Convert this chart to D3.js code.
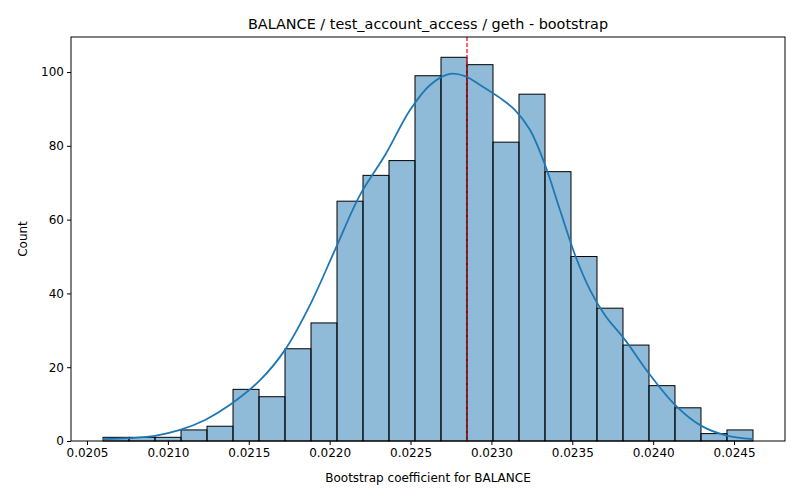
<!DOCTYPE html>
<html>
<head>
<meta charset="utf-8">
<script src="https://cdn.jsdelivr.net/npm/d3@7"></script>
<style>
  body { margin: 0; background: #fff; }
  text { font-family: "DejaVu Sans", sans-serif; }
</style>
</head>
<body>
<svg id="chart" width="800" height="500"></svg>
<script>
// histogram bins
const binStart = 0.020599;
const binWidth = 0.00016072;
const counts = [1, 1, 1, 3, 4, 14, 12, 25, 32, 65, 72, 76, 99, 104, 102, 81, 94, 73, 50, 36, 26, 15, 9, 2, 3];

// kde curve
const kdeX = [0.020599, 0.020766, 0.020920, 0.021075, 0.021230, 0.021384, 0.021570, 0.021724, 0.021879, 0.022033,
  0.022188, 0.022343, 0.022497, 0.022621, 0.022744, 0.022837, 0.022930, 0.023053, 0.023146, 0.023239,
  0.023332, 0.023424, 0.023517, 0.023610, 0.023702, 0.023826, 0.023981, 0.024135, 0.024290, 0.024444, 0.024617];
const kdeY = [0.5, 0.8, 1.4, 3.0, 5.7, 9.8, 16.5, 24.7, 36.9, 51.8,
  66.7, 77.5, 89.7, 96.5, 99.5, 98.9, 96.5, 93.0, 89.7, 84.3,
  74.8, 62.6, 50.4, 40.9, 34.1, 27.4, 17.9, 9.8, 4.3, 1.6, 0.5];

const meanValue = 0.022849;
const xTicks = [0.0205, 0.0210, 0.0215, 0.0220, 0.0225, 0.0230, 0.0235, 0.0240, 0.0245];
const yTicks = [0, 20, 40, 60, 80, 100];

const svg = d3.select("#chart");
const mLeft = 71, mRight = 785, mTop = 37, mBottom = 441;

const x = d3.scaleLinear().domain([0.020401, 0.024815]).range([mLeft, mRight]);
const y = d3.scaleLinear().domain([0, 109.5]).range([mBottom, mTop]);

const bars = counts.map((c, i) => ({ x0: binStart + i * binWidth, x1: binStart + (i + 1) * binWidth, c }));

svg.append("g").selectAll("rect")
  .data(bars)
  .enter().append("rect")
  .attr("x", d => x(d.x0))
  .attr("width", d => x(d.x1) - x(d.x0))
  .attr("y", d => y(d.c))
  .attr("height", d => y(0) - y(d.c))
  .attr("fill", "rgba(31,119,180,0.5)")
  .attr("stroke", "#000")
  .attr("stroke-width", 1);

const line = d3.line()
  .x(d => x(d[0]))
  .y(d => y(d[1]))
  .curve(d3.curveCatmullRom);

svg.append("path")
  .datum(kdeX.map((v, i) => [v, kdeY[i]]))
  .attr("d", line)
  .attr("fill", "none")
  .attr("stroke", "#1f77b4")
  .attr("stroke-width", 1.8);

svg.append("line")
  .attr("x1", x(meanValue)).attr("x2", x(meanValue))
  .attr("y1", mTop).attr("y2", mBottom)
  .attr("stroke", "red")
  .attr("stroke-width", 1.2)
  .attr("stroke-dasharray", "4,2");

// frame
svg.append("rect")
  .attr("x", mLeft).attr("y", mTop)
  .attr("width", mRight - mLeft).attr("height", mBottom - mTop)
  .attr("fill", "none").attr("stroke", "#000").attr("stroke-width", 1);

const xAxis = svg.append("g")
  .attr("transform", `translate(0,${mBottom})`)
  .call(d3.axisBottom(x).tickValues(xTicks).tickFormat(d3.format(".4f")).tickSize(4).tickPadding(3));
const yAxis = svg.append("g")
  .attr("transform", `translate(${mLeft},0)`)
  .call(d3.axisLeft(y).tickValues(yTicks).tickSize(4).tickPadding(3));

[xAxis, yAxis].forEach(a => {
  a.select(".domain").remove();
  a.selectAll("text").attr("font-size", 12).attr("fill", "#000").style("font-family", "DejaVu Sans");
  a.selectAll("line").attr("stroke", "#000");
});

svg.append("text")
  .attr("x", (mLeft + mRight) / 2).attr("y", 482)
  .attr("text-anchor", "middle").attr("font-size", 12)
  .text("Bootstrap coefficient for BALANCE");

svg.append("text")
  .attr("transform", `translate(27,${(mTop + mBottom) / 2}) rotate(-90)`)
  .attr("text-anchor", "middle").attr("font-size", 12)
  .text("Count");

svg.append("text")
  .attr("x", (mLeft + mRight) / 2).attr("y", 29)
  .attr("text-anchor", "middle").attr("font-size", 14.4)
  .text("BALANCE / test_account_access / geth - bootstrap");
</script>
</body>
</html>
